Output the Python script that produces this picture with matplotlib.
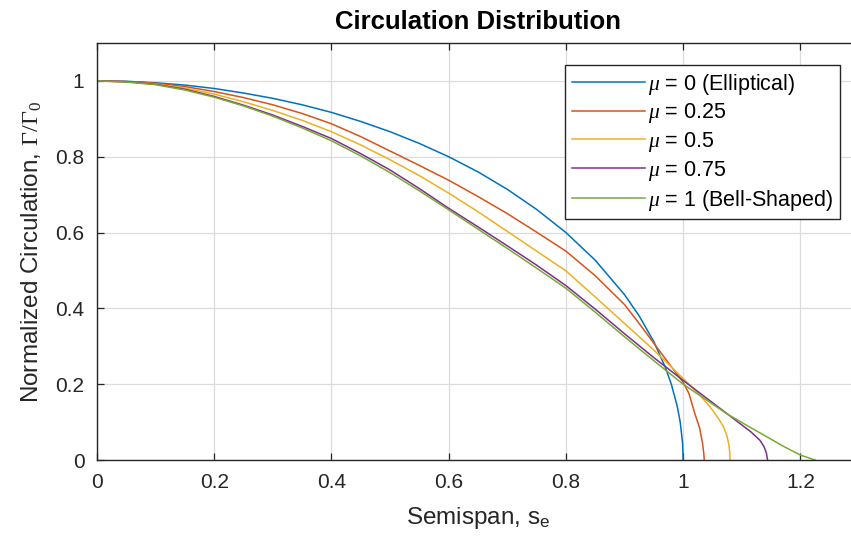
import numpy as np
import matplotlib.pyplot as plt

plt.rcParams['font.family'] = ['Liberation Sans', 'DejaVu Sans']
plt.rcParams['mathtext.fontset'] = 'custom'
plt.rcParams['mathtext.rm'] = 'Liberation Serif'
plt.rcParams['mathtext.it'] = 'Liberation Serif:italic'
plt.rcParams['mathtext.sf'] = 'Liberation Sans'

x_ell = [0, 0.05, 0.1, 0.15, 0.2, 0.25, 0.3, 0.35, 0.4, 0.45, 0.5, 0.55, 0.6, 0.65, 0.7,
         0.75, 0.8, 0.85, 0.9, 0.925, 0.95, 0.97, 0.98, 0.99, 0.995, 0.999, 1.0]
g_ell = [1, 0.999, 0.995, 0.989, 0.98, 0.968, 0.954, 0.937, 0.917, 0.893, 0.866, 0.835, 0.8, 0.76, 0.714,
         0.661, 0.6, 0.527, 0.436, 0.38, 0.312, 0.243, 0.199, 0.141, 0.1, 0.045, 0]

x_025 = [0, 0.05, 0.1, 0.15, 0.2, 0.25, 0.3, 0.35, 0.4, 0.45, 0.5, 0.55, 0.6, 0.65, 0.7, 0.75,
         0.8, 0.85, 0.9, 0.925, 0.95, 0.975, 1.0, 1.01, 1.02, 1.028, 1.033, 1.035, 1.036]
g_025 = [1, 0.998, 0.994, 0.985, 0.972, 0.956, 0.937, 0.914, 0.887, 0.853, 0.815, 0.777, 0.738, 0.695, 0.65, 0.601,
         0.551, 0.486, 0.41, 0.36, 0.308, 0.256, 0.205, 0.175, 0.122, 0.085, 0.045, 0.02, 0]

x_050 = [0, 0.05, 0.1, 0.15, 0.2, 0.25, 0.3, 0.35, 0.4, 0.45, 0.5, 0.55, 0.6, 0.65, 0.7, 0.75,
         0.8, 0.85, 0.9, 0.95, 1.0, 1.025, 1.046, 1.06, 1.069, 1.075, 1.078, 1.0795, 1.08]
g_050 = [1, 0.998, 0.992, 0.981, 0.965, 0.945, 0.922, 0.896, 0.866, 0.831, 0.792, 0.75, 0.704, 0.655, 0.603, 0.551,
         0.499, 0.43, 0.36, 0.29, 0.215, 0.177, 0.14, 0.11, 0.087, 0.062, 0.04, 0.02, 0]

x_075 = [0, 0.05, 0.1, 0.15, 0.2, 0.25, 0.3, 0.35, 0.4, 0.45, 0.5, 0.55, 0.6, 0.65, 0.7, 0.75,
         0.8, 0.85, 0.9, 0.95, 1.0, 1.052, 1.075, 1.097, 1.115, 1.131, 1.138, 1.142, 1.144]
g_075 = [1, 0.998, 0.991, 0.978, 0.959, 0.936, 0.91, 0.88, 0.848, 0.808, 0.765, 0.716, 0.664, 0.615, 0.565, 0.514,
         0.46, 0.398, 0.333, 0.27, 0.21, 0.149, 0.122, 0.096, 0.075, 0.052, 0.035, 0.018, 0]

x_100 = [0, 0.05, 0.1, 0.15, 0.2, 0.25, 0.3, 0.35, 0.4, 0.45, 0.5, 0.55, 0.6, 0.65, 0.7, 0.75,
         0.8, 0.85, 0.9, 0.95, 1.0, 1.0745, 1.11, 1.143, 1.17, 1.2, 1.225]
g_100 = [1, 0.997, 0.99, 0.976, 0.957, 0.934, 0.907, 0.876, 0.842, 0.802, 0.758, 0.71, 0.66, 0.609, 0.558, 0.506,
         0.453, 0.39, 0.325, 0.262, 0.2, 0.122, 0.09, 0.061, 0.037, 0.013, 0]

labels = [r'$\mu$ = 0 (Elliptical)', r'$\mu$ = 0.25', r'$\mu$ = 0.5',
          r'$\mu$ = 0.75', r'$\mu$ = 1 (Bell-Shaped)']
colors = ['#0072BD', '#D95319', '#EDB120', '#7E2F8E', '#77AC30']

fig = plt.figure(figsize=(8.51, 5.44), dpi=100)
ax = fig.add_axes([97 / 851, 84 / 544, 762 / 851, 417 / 544])

series = [(x_ell, g_ell), (x_025, g_025), (x_050, g_050), (x_075, g_075), (x_100, g_100)]
for (xs, gs), lab, c in zip(series, labels, colors):
    ax.plot(xs, gs, color=c, lw=1.1, label=lab)

ax.set_xlim(0, 1.3)
ax.set_ylim(0, 1.1)
ax.set_xticks([0, 0.2, 0.4, 0.6, 0.8, 1.0, 1.2])
ax.set_xticklabels(['0', '0.2', '0.4', '0.6', '0.8', '1', '1.2'])
ax.set_yticks([0, 0.2, 0.4, 0.6, 0.8, 1.0])
ax.set_yticklabels(['0', '0.2', '0.4', '0.6', '0.8', '1'])
ax.grid(True, color='#dcdcdc', lw=0.9)
ax.tick_params(direction='in', top=True, right=True, length=5, width=0.9,
               colors='#262626', labelsize=15, pad=9)
for s in ax.spines.values():
    s.set_color('#262626')
    s.set_linewidth(1.0)

ax.set_title('Circulation Distribution', fontsize=18.5, fontweight='bold', pad=10)
ax.set_xlabel(r'Semispan, s$_{\mathsf{e}}$', fontsize=17.5, color='#262626', labelpad=10)
ax.set_ylabel(r'Normalized Circulation, $\Gamma/\Gamma_0$', fontsize=17.5, color='#262626', labelpad=8)

leg = ax.legend(loc='upper right', bbox_to_anchor=(0.975, 0.947), borderaxespad=0,
                fontsize=15.5, handlelength=3.4, handletextpad=0.15, labelspacing=0.22,
                fancybox=False, framealpha=1, edgecolor='#262626', borderpad=0.3)
leg.get_frame().set_linewidth(1.0)

fig.savefig('out.png', dpi=100)
